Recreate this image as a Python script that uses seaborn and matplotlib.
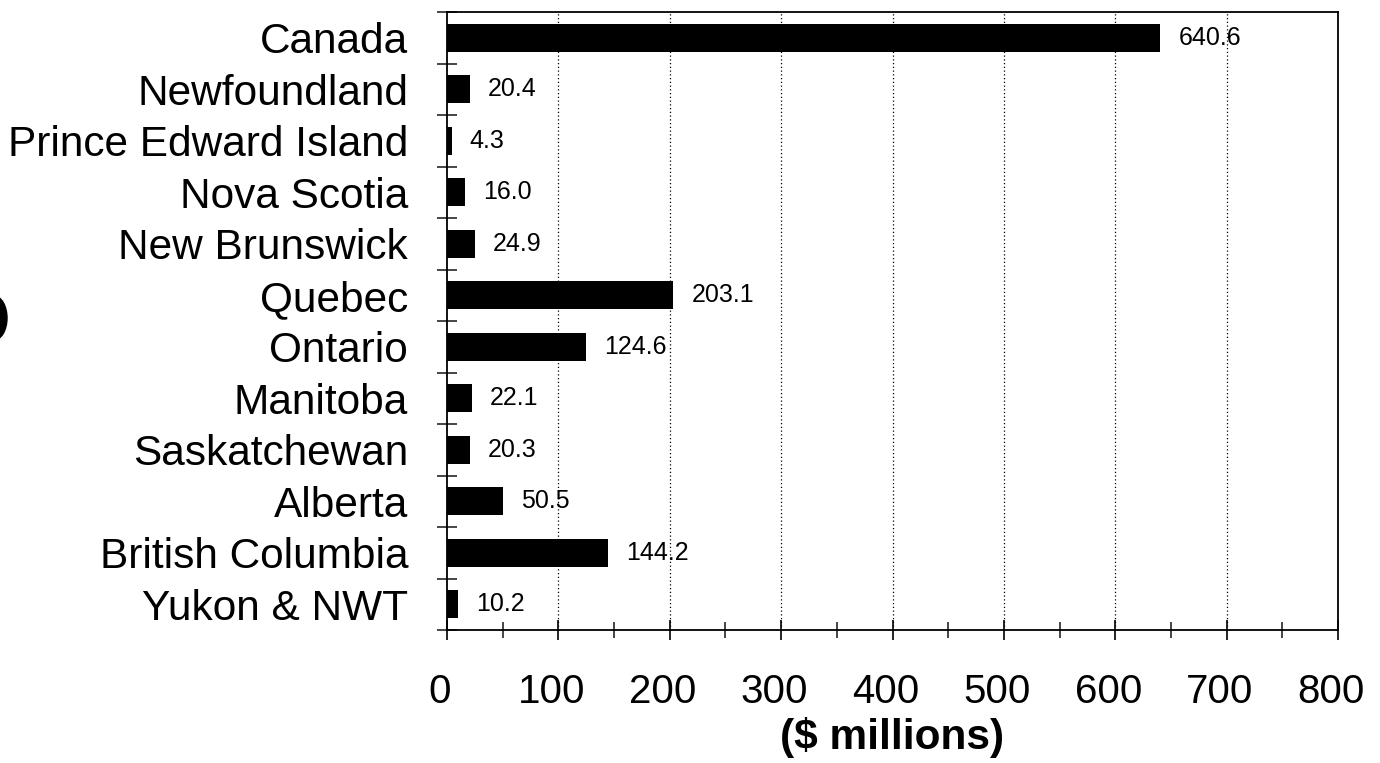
import numpy as np
import pandas as pd
import matplotlib
matplotlib.use("Agg")
import matplotlib.pyplot as plt
from matplotlib.patches import Ellipse
from matplotlib.ticker import MultipleLocator, FixedLocator
from matplotlib.transforms import ScaledTranslation
import seaborn as sns

# datos
regiones = ["Canada", "Newfoundland", "Prince Edward Island", "Nova Scotia",
            "New Brunswick", "Quebec", "Ontario", "Manitoba", "Saskatchewan",
            "Alberta", "British Columbia", "Yukon & NWT"]
montos = [640.6, 20.4, 4.3, 16.0, 24.9, 203.1, 124.6, 22.1, 20.3, 50.5, 144.2, 10.2]
etiquetas = ["640.6", "20.4", "4.3", "16.0", "24.9", "203.1", "124.6",
             "22.1", "20.3", "50.5", "144.2", "10.2"]
xticks = [0, 100, 200, 300, 400, 500, 600, 700, 800]

df = pd.DataFrame({"region": regiones, "monto": montos})

sns.set_theme(style="white")
plt.rcParams['font.family'] = ['Liberation Sans', 'DejaVu Sans']
plt.rcParams['text.color'] = 'black'
plt.rcParams['axes.labelcolor'] = 'black'

fig = plt.figure(figsize=(13.8, 7.63), dpi=100)
ax = fig.add_axes([447/1380, 1 - 630/763, (1338-447)/1380, (630-12)/763])

sns.barplot(data=df, y="region", x="monto", color="black", orient="h",
            width=0.55, edgecolor="black", linewidth=0, ax=ax)

# etiquetas de valor
for i, (v, t) in enumerate(zip(montos, etiquetas)):
    ax.annotate(t, xy=(v, i), xytext=(13, 0), textcoords="offset points",
                va="center", ha="left", fontsize=18, color="black")

ax.set_xlim(0, 800)
ax.set_ylim(len(regiones) - 0.5, -0.5)
ax.set_xticks(xticks)
ax.xaxis.set_minor_locator(MultipleLocator(50))
ax.yaxis.set_minor_locator(FixedLocator(np.arange(-0.5, len(regiones), 1.0)))

ax.grid(False)
for x in xticks[1:-1]:
    ax.axvline(x, color="black", linestyle=(0, (1, 2)), linewidth=0.9, zorder=0)

for s in ax.spines.values():
    s.set_color("black")
    s.set_linewidth(1.3)
    s.set_visible(True)

ax.tick_params(axis="x", which="major", direction="inout", length=14, width=1.2,
               labelsize=29, pad=24, colors="black", bottom=True)
ax.tick_params(axis="x", which="minor", direction="inout", length=11, width=1.2,
               bottom=True)
ax.tick_params(axis="y", which="major", length=0, labelsize=30.5, pad=28,
               colors="black", left=True)
ax.tick_params(axis="y", which="minor", direction="inout", length=15, width=1.2,
               left=True)

# las cifras del eje x quedan un poco a la izquierda en el original
desplazo = ScaledTranslation(-5/72, 0, fig.dpi_scale_trans)
for lbl in ax.get_xticklabels():
    lbl.set_transform(lbl.get_transform() + desplazo)

ax.set_ylabel("")
ax.set_xlabel("($ millions)", fontsize=30.5, fontweight="bold", labelpad=4,
              color="black")

# mancha del escaneo a la izquierda
fig.add_artist(Ellipse((-6/1380, 1 - 318/763), 26/1380, 44/763,
                       transform=fig.transFigure, color="black"))

plt.savefig("out.png", dpi=100)
